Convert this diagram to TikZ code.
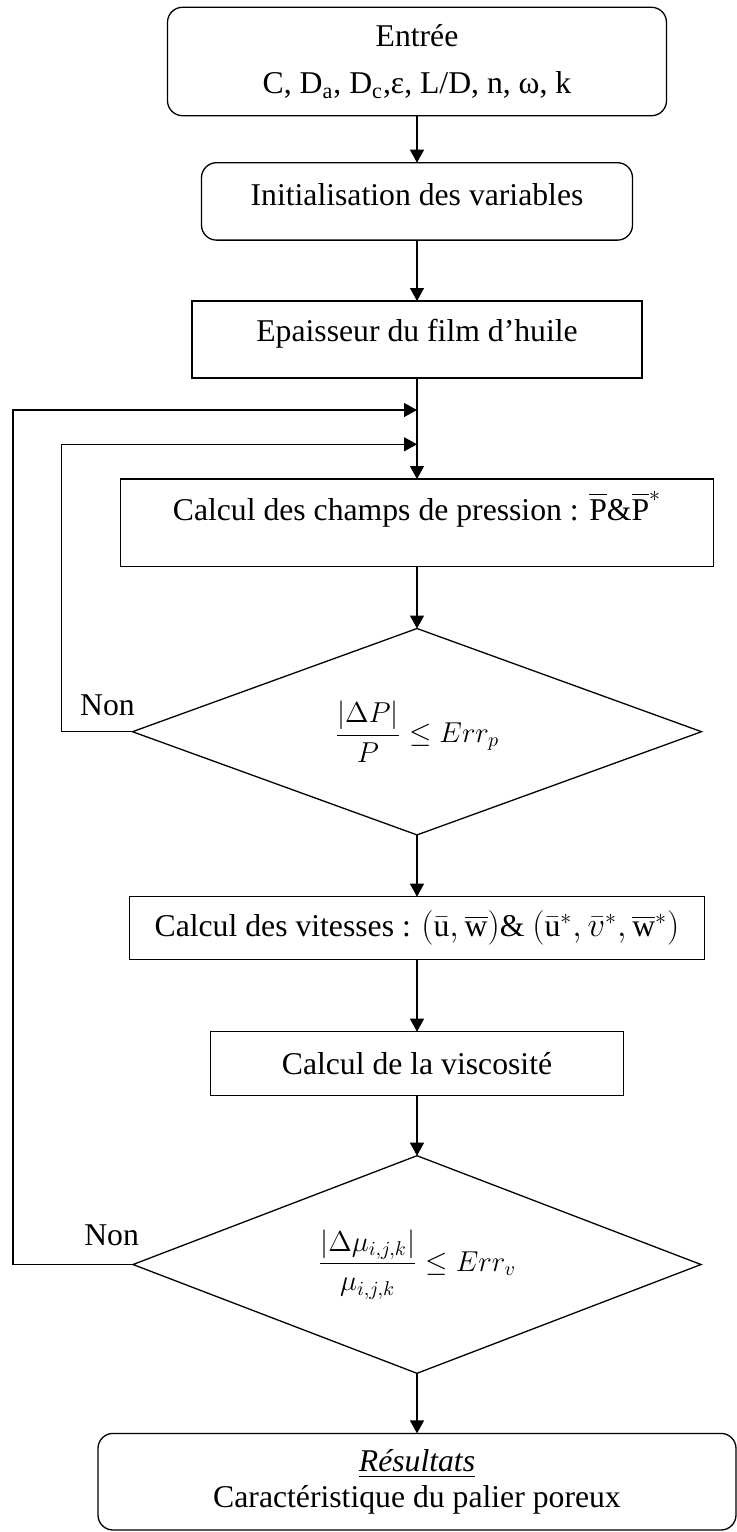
\documentclass[tikz,border=0pt]{standalone}
\usepackage{amsmath,amssymb}
\usepackage{fontspec}
\setmainfont{Liberation Serif}
\usetikzlibrary{arrows.meta,shapes.geometric}

\begin{document}
\begin{tikzpicture}[x=0.5pt,y=-0.5pt,
  font=\fontsize{15.85}{18}\selectfont,
  every node/.style={outer sep=0pt},
  etape/.style={draw, line width=0.65pt, align=center},
  arrondi/.style={etape, rounded corners=7.5pt},
  test/.style={draw, line width=0.65pt, diamond, aspect=2.76, inner sep=0pt, font=\fontsize{14}{17}\selectfont},
  fl/.style={line width=0.65pt, -{Triangle[length=6.5pt,width=7pt]}}]

% ===== cadre 737 x 1532 =====
\useasboundingbox (0,0) rectangle (737,1532);

% ===== blocs =====
\node[arrondi, minimum width=249.5pt, minimum height=54.2pt] (entree) at (417,61.5)
  {Entrée\\[5.5pt] C, D\textsubscript{a}, D\textsubscript{c},ε, L/D, n, ω, k};
\node[arrondi, minimum width=215.5pt, minimum height=38.7pt, text height=10.8pt, text depth=7pt] (init) at (417,201.4)
  {Initialisation des variables};
\node[etape, minimum width=225pt, minimum height=38.5pt, text height=10.8pt, text depth=8.5pt] (epais) at (417,339.5)
  {Epaisseur du film d’huile};
\node[etape, minimum width=296.7pt, minimum height=43.9pt, text height=10.8pt, text depth=13.7pt] (champs) at (417,522.9)
  {Calcul des champs de pression : $\overline{\text{P}}\&\overline{\text{P}}^{*}$};
\node[test, minimum width=284.5pt, minimum height=103.2pt] (testp) at (417,731.7)
  {$\dfrac{|\Delta P|}{P}\leq Err_{p}$};
\node[etape, minimum width=287.5pt, minimum height=31.3pt] (vitesses) at (417,928)
  {Calcul des vitesses : $(\bar{\text{u}},\overline{\text{w}})$\& $(\bar{\text{u}}{}^{*},\bar{v}{}^{*},\overline{\text{w}}{}^{*})$};
\node[etape, minimum width=206.5pt, minimum height=32pt] (visco) at (417,1063.7)
  {Calcul de la viscosité};
\node[test, minimum width=284pt, minimum height=108.8pt, aspect=2.61] (testv) at (417,1264.5)
  {$\dfrac{\left|\Delta\mu_{i,j,k}\right|}{\mu_{i,j,k}}\leq Err_{v}$};
\node[arrondi, minimum width=319pt, minimum height=48.3pt] (resultats) at (417,1481.7)
  {\underline{\textit{Résultats}}\\ Caractéristique du palier poreux};

% ===== Non =====
\node[anchor=base east] (nonp) at ([xshift=4.5pt,yshift=8pt]testp.west) {Non};
\node[anchor=base east] (nonv) at ([xshift=6.3pt,yshift=9.5pt]testv.west) {Non};

% ===== liaisons =====
\coordinate (retv) at (417,410);
\coordinate (retp) at (417,444.3);
\draw[fl] (entree) -- (init);
\draw[fl] (init) -- (epais);
\draw[fl] (epais) -- (champs);
\draw[fl] (champs) -- (testp);
\draw[fl] (testp) -- (vitesses);
\draw[fl] (vitesses) -- (visco);
\draw[fl] (visco) -- (testv);
\draw[fl] (testv) -- (resultats);

% ===== boucles =====
\draw[fl] (testp.west) -- ++(-71,0) |- (retp);
\draw[fl] (testv.west) -- ++(-120,0) |- (retv);

\end{tikzpicture}
\end{document}
